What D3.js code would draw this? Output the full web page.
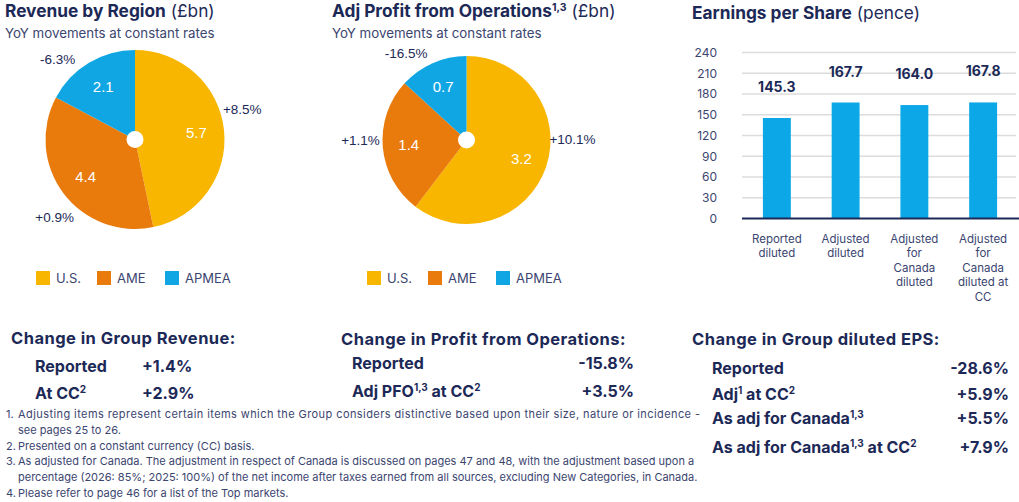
<!DOCTYPE html>
<html>
<head>
<meta charset="utf-8">
<script src="https://cdn.jsdelivr.net/npm/d3@7"></script>
<style>
  body { margin: 0; background: #fff; }
  svg { display: block; font-family: Inter, "Noto Sans", sans-serif; }
</style>
</head>
<body>
<svg id="canvas"></svg>
<script>
// regions shared by both pies
let regions = ["U.S.", "AME", "APMEA"]
let regionColors = ["#f8b600", "#e97a0c", "#0fa6e3"]

let revenueValues = [5.7, 4.4, 2.1]
let revenueChanges = ["+8.5%", "+0.9%", "-6.3%"]

let profitValues = [3.2, 1.4, 0.7]
let profitChanges = ["+10.1%", "+1.1%", "-16.5%"]

// EPS bars
let epsCategories = [
  ["Reported", "diluted"],
  ["Adjusted", "diluted"],
  ["Adjusted", "for", "Canada", "diluted"],
  ["Adjusted", "for", "Canada", "diluted at", "CC"]
]
let epsValues = [145.3, 167.7, 164.0, 167.8]
let epsTicks = [0, 30, 60, 90, 120, 150, 180, 210, 240]

// summary tables
let revenueRows = [["Reported", "+1.4%"], ["At CC|2", "+2.9%"]]
let profitRows = [["Reported", "-15.8%"], ["Adj PFO|1,3| at CC|2", "+3.5%"]]
let epsRows = [
  ["Reported", "-28.6%"],
  ["Adj|1| at CC|2", "+5.9%"],
  ["As adj for Canada|1,3", "+5.5%"],
  ["As adj for Canada|1,3| at CC|2", "+7.9%"]
]

let footnotes = [
  ["1.", "Adjusting items represent certain items which the Group considers distinctive based upon their size, nature or incidence -"],
  ["", "see pages 25 to 26."],
  ["2.", "Presented on a constant currency (CC) basis."],
  ["3.", "As adjusted for Canada. The adjustment in respect of Canada is discussed on pages 47 and 48, with the adjustment based upon a"],
  ["", "percentage (2026: 85%; 2025: 100%) of the net income after taxes earned from all sources, excluding New Categories, in Canada."],
  ["4.", "Please refer to page 46 for a list of the Top markets."]
]

let width = 1019
let height = 502
let navy = "#1c2957"
let softNavy = "#3b4570"

let canvas = d3.select("#canvas")
  .attr("width", width)
  .attr("height", height)

// text with |sup| parts, alternating normal / superscript
let richText = (sel, str, supSize) => {
  str.split("|").forEach((part, i) => {
    if (i % 2 == 1) {
      sel.append("tspan").attr("font-size", supSize).attr("dy", -6).attr("letter-spacing", 0).text(part)
    } else {
      sel.append("tspan").attr("dy", i == 0 ? 0 : 6).text(part)
    }
  })
}

let drawTitle = (x, y, bold, light, sup) => {
  let t = canvas.append("text")
    .attr("x", x).attr("y", y)
    .attr("fill", navy)
    .attr("font-size", 17.3)
  t.append("tspan").attr("font-weight", 700).text(bold)
  if (sup) t.append("tspan").attr("font-weight", 700).attr("font-size", 10.5).attr("dy", -6).text(sup)
  t.append("tspan").attr("font-weight", 400).attr("dy", sup ? 6 : 0).text(" " + light)
}

// nudges: small angle shifts (degrees) for the outside yoy labels
let drawPie = (cx, cy, r, values, changes, legendX, nudges) => {
  let g = canvas.append("g").attr("transform", `translate(${cx},${cy})`)
  let pie = d3.pie().sort(null).value(d => d)
  let arcs = pie(values)
  let arc = d3.arc().innerRadius(0).outerRadius(r)
  let inner = d3.arc().innerRadius(r * 0.69).outerRadius(r * 0.69)

  g.selectAll("path.slice")
    .data(arcs)
    .enter()
    .append("path")
    .attr("class", "slice")
    .attr("d", arc)
    .attr("fill", (d, i) => regionColors[i])

  g.append("circle").attr("r", 8.5).attr("fill", "#fff")

  g.selectAll("text.val")
    .data(arcs)
    .enter()
    .append("text")
    .attr("class", "val")
    .attr("transform", d => `translate(${inner.centroid(d)})`)
    .attr("text-anchor", "middle")
    .attr("dy", "0.35em")
    .attr("fill", "#fff")
    .attr("font-family", "Liberation Sans, Arial, sans-serif")
    .attr("font-size", 15)
    .text(d => d.data.toFixed(1))

  g.selectAll("text.chg")
    .data(arcs)
    .enter()
    .append("text")
    .attr("class", "chg")
    .attr("transform", (d, i) => {
      let a = (d.startAngle + d.endAngle) / 2 + nudges[i] * Math.PI / 180
      let rr = r + 22
      return `translate(${Math.sin(a) * rr},${-Math.cos(a) * rr})`
    })
    .attr("text-anchor", "middle")
    .attr("dy", "0.35em")
    .attr("fill", navy)
    .attr("font-family", "Liberation Sans, Arial, sans-serif")
    .attr("font-size", 13.5)
    .text((d, i) => changes[i])

  // legend
  let offsets = [0, 61, 129]
  let lg = canvas.append("g").attr("transform", `translate(${legendX},271)`)
  regions.forEach((name, i) => {
    lg.append("rect").attr("x", offsets[i]).attr("y", 0)
      .attr("width", 14).attr("height", 14)
      .attr("fill", regionColors[i])
    lg.append("text").attr("x", offsets[i] + 20).attr("y", 11.5)
      .attr("fill", softNavy).attr("font-size", 13)
      .text(name)
  })
}

// --- top left: revenue pie
drawTitle(5, 17, "Revenue by Region", "(£bn)")
canvas.append("text").attr("x", 5).attr("y", 38)
  .attr("fill", softNavy).attr("font-size", 13.3)
  .text("YoY movements at constant rates")
drawPie(135, 139.5, 89.5, revenueValues, revenueChanges, 36, [-10, -7, -13])

// --- top middle: profit pie
drawTitle(332, 17, "Adj Profit from Operations", "(£bn)", "1,3")
canvas.append("text").attr("x", 332).attr("y", 38)
  .attr("fill", softNavy).attr("font-size", 13.3)
  .text("YoY movements at constant rates")
drawPie(466.5, 140, 84, profitValues, profitChanges, 367, [-19, 5, -11])

// --- top right: EPS bars
drawTitle(692, 19, "Earnings per Share", "(pence)")

let x = d3.scaleBand()
  .domain(d3.range(epsValues.length))
  .range([742, 1018])
  .paddingInner(0.594)
  .paddingOuter(0.304)

let y = d3.scaleLinear()
  .domain([0, 240])
  .range([218.5, 52.5])

let grid = canvas.append("g")
grid.selectAll("line")
  .data(epsTicks.filter(t => t > 0))
  .enter()
  .append("line")
  .attr("x1", 742).attr("x2", 1016)
  .attr("y1", d => y(d)).attr("y2", d => y(d))
  .attr("stroke", "#dcdcdc")
  .attr("stroke-width", 1.5)

let yAxis = canvas.append("g")
  .attr("transform", "translate(742,0)")
  .call(d3.axisLeft(y).tickValues(epsTicks).tickSize(0).tickPadding(25))
yAxis.select(".domain").remove()
yAxis.selectAll("text")
  .attr("fill", softNavy)
  .attr("font-size", 12)
  .attr("font-family", "Inter, sans-serif")

canvas.append("g").selectAll("rect")
  .data(epsValues)
  .enter()
  .append("rect")
  .attr("x", (d, i) => x(i))
  .attr("width", x.bandwidth())
  .attr("y", d => y(d))
  .attr("height", d => y(0) - y(d))
  .attr("fill", "#0ba7e7")

canvas.append("line")
  .attr("x1", 742).attr("x2", 1019)
  .attr("y1", y(0)).attr("y2", y(0))
  .attr("stroke", navy).attr("stroke-width", 2)

canvas.append("g").selectAll("text")
  .data(epsValues)
  .enter()
  .append("text")
  .attr("x", (d, i) => x(i) + x.bandwidth() / 2)
  .attr("y", d => y(d) - 26)
  .attr("text-anchor", "middle")
  .attr("fill", navy)
  .attr("font-weight", 700)
  .attr("font-size", 14)
  .text(d => d.toFixed(1))

let catLabels = canvas.append("g").selectAll("text")
  .data(epsCategories)
  .enter()
  .append("text")
  .attr("text-anchor", "middle")
  .attr("fill", softNavy)
  .attr("font-size", 11.5)
catLabels.each(function (lines, i) {
  let t = d3.select(this)
  lines.forEach((line, j) => {
    t.append("tspan")
      .attr("x", x(i) + x.bandwidth() / 2)
      .attr("y", 243 + j * 14.4)
      .text(line)
  })
})

// --- bottom summaries
let drawTable = (hx, hy, header, rows, rowX, valX, rowYs, anchor) => {
  canvas.append("text").attr("x", hx).attr("y", hy)
    .attr("fill", navy).attr("font-weight", 700).attr("font-size", 16.5)
    .attr("letter-spacing", 0.45)
    .text(header)
  rows.forEach((row, i) => {
    let t = canvas.append("text").attr("x", rowX).attr("y", rowYs[i])
      .attr("fill", navy).attr("font-weight", 700).attr("font-size", 16)
    richText(t, row[0], 10)
    canvas.append("text").attr("x", valX).attr("y", rowYs[i])
      .attr("text-anchor", anchor)
      .attr("fill", navy).attr("font-weight", 700).attr("font-size", 16)
      .text(row[1])
  })
}

drawTable(11, 344, "Change in Group Revenue:", revenueRows, 35, 142, [372, 399], "start")
drawTable(341, 345, "Change in Profit from Operations:", profitRows, 352, 634, [369, 397], "end")
drawTable(692, 345, "Change in Group diluted EPS:", epsRows, 712, 1009, [374, 400, 424, 453], "end")

// --- footnotes (first line of note 1 is justified out to the margin)
let fn = canvas.append("g")
footnotes.forEach((f, i) => {
  let yy = 418 + i * 15.8
  fn.append("text").attr("x", 6).attr("y", yy)
    .attr("fill", softNavy).attr("font-size", 11).text(f[0])
  let t = fn.append("text").attr("x", 18).attr("y", yy)
    .attr("fill", softNavy).attr("font-size", 11).text(f[1])
  if (i == 0) t.attr("textLength", 682).attr("lengthAdjust", "spacing")
})
</script>
</body>
</html>
